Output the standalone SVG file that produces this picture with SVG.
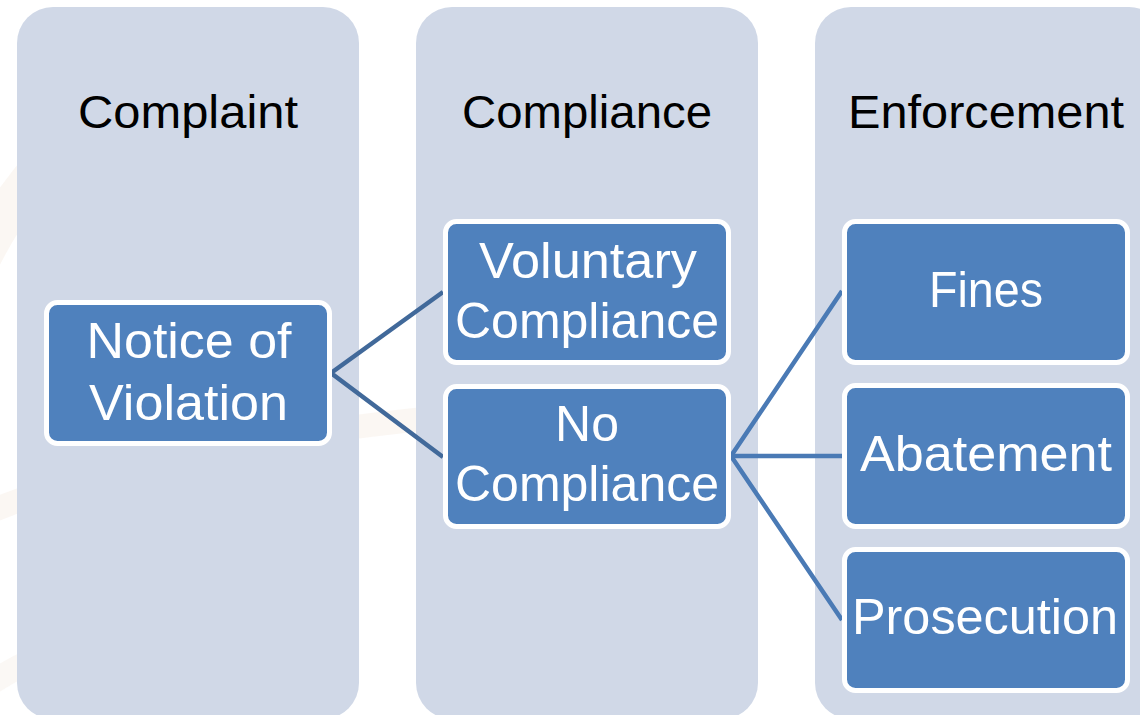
<svg xmlns="http://www.w3.org/2000/svg" width="1140" height="715" viewBox="0 0 1140 715">
<style>
.col{fill:#D0D8E7;}
.box{fill:#4F81BD;stroke:#FFFFFF;stroke-width:5;}
.title{font-family:"Liberation Sans",Arial,sans-serif;font-size:47px;fill:#000000;text-anchor:middle;}
.lbl{font-family:"Liberation Sans",Arial,sans-serif;font-size:50px;fill:#FFFFFF;text-anchor:middle;}
.c1{stroke:#41699A;stroke-width:4.5;fill:none;}
.c2{stroke:#4A7AB5;stroke-width:4.5;fill:none;}
</style>
<rect x="0" y="0" width="1140" height="715" fill="#FFFFFF"/>
<g id="watermark" fill="none" stroke="#F8F1EB" stroke-linecap="round">
<path d="M -20 260 Q 40 140 150 80" stroke-width="40" opacity="0.6"/>
<path d="M -30 520 Q 150 440 520 410" stroke-width="24" opacity="0.6"/>
<path d="M -20 690 Q 40 650 110 630" stroke-width="24" opacity="0.5"/>
</g>
<g id="col-complaint">
<rect class="col" x="17" y="7" width="342" height="712" rx="36"/>
<text class="title" x="188" y="128" textLength="220" lengthAdjust="spacingAndGlyphs">Complaint</text>
</g>
<g id="col-compliance">
<rect class="col" x="416" y="7" width="342" height="712" rx="36"/>
<text class="title" x="587" y="128" textLength="250" lengthAdjust="spacingAndGlyphs">Compliance</text>
</g>
<g id="col-enforcement">
<rect class="col" x="815" y="7" width="350" height="712" rx="36"/>
<text class="title" x="986" y="128" textLength="276" lengthAdjust="spacingAndGlyphs">Enforcement</text>
</g>
<g id="connectors">
<path class="c1" d="M 443 292 L 331 373 L 443 457"/>
<path class="c2" d="M 842 291 L 731 456 L 842 620"/>
<path class="c2" d="M 731 456 L 842 456"/>
</g>
<g id="node-notice">
<rect class="box" x="46.5" y="302.5" width="283" height="141" rx="11"/>
<text class="lbl" x="189" y="358" textLength="205" lengthAdjust="spacingAndGlyphs">Notice of</text>
<text class="lbl" x="188.5" y="420" textLength="199" lengthAdjust="spacingAndGlyphs">Violation</text>
</g>
<g id="node-voluntary">
<rect class="box" x="445.5" y="221.5" width="283" height="141" rx="11"/>
<text class="lbl" x="588" y="278" textLength="218" lengthAdjust="spacingAndGlyphs">Voluntary</text>
<text class="lbl" x="587" y="338" textLength="264" lengthAdjust="spacingAndGlyphs">Compliance</text>
</g>
<g id="node-nocompliance">
<rect class="box" x="445.5" y="386.5" width="283" height="140" rx="11"/>
<text class="lbl" x="587" y="441">No</text>
<text class="lbl" x="587" y="501" textLength="264" lengthAdjust="spacingAndGlyphs">Compliance</text>
</g>
<g id="node-fines">
<rect class="box" x="844.5" y="221.5" width="283" height="141" rx="11"/>
<text class="lbl" x="986" y="307" textLength="114" lengthAdjust="spacingAndGlyphs">Fines</text>
</g>
<g id="node-abatement">
<rect class="box" x="844.5" y="385.5" width="283" height="141" rx="11"/>
<text class="lbl" x="986" y="471" textLength="252" lengthAdjust="spacingAndGlyphs">Abatement</text>
</g>
<g id="node-prosecution">
<rect class="box" x="844.5" y="549.5" width="283" height="141" rx="11"/>
<text class="lbl" x="985" y="634" textLength="266" lengthAdjust="spacingAndGlyphs">Prosecution</text>
</g>
</svg>
